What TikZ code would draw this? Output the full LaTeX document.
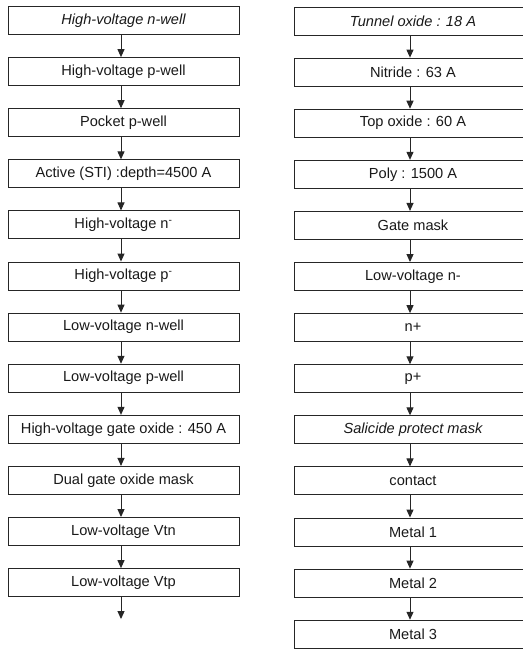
\documentclass[tikz,border=0pt]{standalone}
\usepackage{fontspec}
\setmainfont{Liberation Sans}
\usetikzlibrary{arrows.meta}
\begin{document}
\begin{tikzpicture}[x=1pt,y=-1pt,
  stepbox/.style={draw=black!85, line width=0.9pt, minimum width=231pt, minimum height=28pt,
    inner sep=0pt, font=\fontsize{14.6}{16}\selectfont, text=black!90},
  widebox/.style={stepbox, minimum width=238pt},
  flow/.style={draw=black!85, line width=1pt, -{Triangle[width=7pt,length=8pt]}}]
\useasboundingbox (0,0) rectangle (522,652);
% left column
\foreach \i/\t in {1/{\itshape High-voltage n-well},
                   2/{High-voltage p-well},
                   3/{Pocket p-well},
                   4/{Active (STI) :depth=4500 A},
                   5/{High-voltage n\textsuperscript{-}},
                   6/{High-voltage p\textsuperscript{-}},
                   7/{Low-voltage n-well},
                   8/{Low-voltage p-well},
                   9/{High-voltage gate oxide : 450 A},
                   10/{Dual gate oxide mask},
                   11/{Low-voltage Vtn},
                   12/{Low-voltage Vtp}}
  \node[stepbox] (L\i) at (123.5, {20.5+51.1*(\i-1)}) {\t};
% right column
\foreach \i/\t in {1/{\itshape Tunnel oxide : 18 A},
                   2/{Nitride : 63 A},
                   3/{Top oxide : 60 A},
                   4/{Poly : 1500 A},
                   5/{Gate mask},
                   6/{Low-voltage n-},
                   7/{n+},
                   8/{p+},
                   9/{\itshape Salicide protect mask},
                   10/{contact},
                   11/{Metal 1},
                   12/{Metal 2},
                   13/{Metal 3}}
  \node[widebox] (R\i) at (413, {21+51.1*(\i-1)}) {\t};
\foreach \i [evaluate=\i as \j using int(\i+1)] in {1,...,11}
  \draw[flow] ([xshift=-2.5pt]L\i.south) -- ([xshift=-2.5pt]L\j.north);
\coordinate (Lend) at ([xshift=-2.5pt, yshift=-22pt]L12.south);
\draw[flow] ([xshift=-2.5pt]L12.south) -- (Lend);
\foreach \i [evaluate=\i as \j using int(\i+1)] in {1,...,12}
  \draw[flow] ([xshift=-3pt]R\i.south) -- ([xshift=-3pt]R\j.north);
\end{tikzpicture}
\end{document}
